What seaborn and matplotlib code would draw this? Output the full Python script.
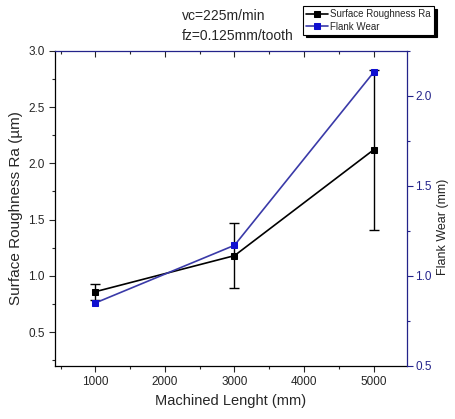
import numpy as np
import pandas as pd
import matplotlib.pyplot as plt
import seaborn as sns
from matplotlib.ticker import MultipleLocator

# datos
longitud = [1000, 3000, 5000]
rugosidad = [0.86, 1.18, 2.12]
rugosidad_err = [0.07, 0.29, 0.71]
desgaste = [0.85, 1.17, 2.13]

sns.set_style("ticks")
plt.rcParams["font.family"] = ["Liberation Sans", "DejaVu Sans"]
plt.rcParams["xtick.direction"] = "out"
plt.rcParams["ytick.direction"] = "out"

azul_eje = "#23238a"

df = pd.DataFrame({"longitud": longitud, "rugosidad": rugosidad, "desgaste": desgaste})

fig = plt.figure(figsize=(4.56, 4.19), dpi=100)
ax = fig.add_axes([0.1206, 0.1265, 0.772, 0.7525])
ax2 = ax.twinx()

# Rugosidad con barras de error
ax.errorbar(longitud, rugosidad, yerr=rugosidad_err, fmt="none", ecolor="black",
            elinewidth=1.0, capsize=3.5, capthick=1.0, zorder=2)
sns.lineplot(data=df, x="longitud", y="rugosidad", ax=ax, color="black",
             marker="s", markersize=5, markeredgecolor="black", linewidth=1.2,
             label="Surface Roughness Ra", legend=False, zorder=3)

# Desgaste de flanco
sns.lineplot(data=df, x="longitud", y="desgaste", ax=ax2, color="#3a3aa8",
             marker="s", markersize=5, markerfacecolor="#1010d0",
             markeredgecolor="#1010d0", linewidth=1.2,
             label="Flank Wear", legend=False, zorder=3)

ax.set_xlim(420, 5480)
ax.set_ylim(0.2, 3.0)
ax2.set_ylim(0.5, 2.25)

ax.xaxis.set_major_locator(MultipleLocator(1000))
ax.xaxis.set_minor_locator(MultipleLocator(500))
ax.yaxis.set_major_locator(MultipleLocator(0.5))
ax.yaxis.set_minor_locator(MultipleLocator(0.25))
ax2.yaxis.set_major_locator(MultipleLocator(0.5))
ax2.yaxis.set_minor_locator(MultipleLocator(0.25))

ax.tick_params(axis="both", which="major", labelsize=8.5, length=4, width=0.8)
ax.tick_params(axis="both", which="minor", length=2.5, width=0.8)
ax.tick_params(axis="x", top=True, which="both")
ax2.tick_params(axis="y", which="major", labelsize=8.5, length=4, width=0.8,
                colors=azul_eje, pad=2)
ax2.tick_params(axis="y", which="minor", length=2.5, width=0.8, colors=azul_eje)

# ticks superiores hacia adentro
for t in ax.xaxis.get_major_ticks() + ax.xaxis.get_minor_ticks():
    t.tick2line.set_marker(3)

ax.set_xlabel("Machined Lenght (mm)", fontsize=10.5)
ax.set_ylabel("Surface Roughness Ra (\u00b5m)", fontsize=11)
ax2.set_ylabel("Flank Wear (mm)", fontsize=9, color="#222222")
ax2.yaxis.set_label_coords(1.085, 0.44)

for lado in ["left", "bottom"]:
    ax.spines[lado].set_color("black")
    ax.spines[lado].set_linewidth(0.9)
ax2.spines["right"].set_color(azul_eje)
ax2.spines["top"].set_color(azul_eje)
ax2.spines["right"].set_linewidth(0.9)
ax2.spines["top"].set_linewidth(0.9)
ax.spines["top"].set_visible(False)
ax.spines["right"].set_visible(False)
ax2.spines["left"].set_visible(False)
ax2.spines["bottom"].set_visible(False)

fig.text(0.399, 0.962, "vc=225m/min", fontsize=10, va="center")
fig.text(0.399, 0.915, "fz=0.125mm/tooth", fontsize=10, va="center")

h1, l1 = ax.get_legend_handles_labels()
h2, l2 = ax2.get_legend_handles_labels()
leg = fig.legend(h1 + h2, l1 + l2, loc="upper left", bbox_to_anchor=(0.665, 0.985),
                 fontsize=7, frameon=True, fancybox=False,
                 shadow={"color": "black", "alpha": 1.0},
                 handlelength=2.2, borderpad=0.3, labelspacing=0.25,
                 handletextpad=0.3, borderaxespad=0)
leg.get_frame().set_edgecolor("black")
leg.get_frame().set_linewidth(0.8)

fig.savefig("out.png", dpi=100)
